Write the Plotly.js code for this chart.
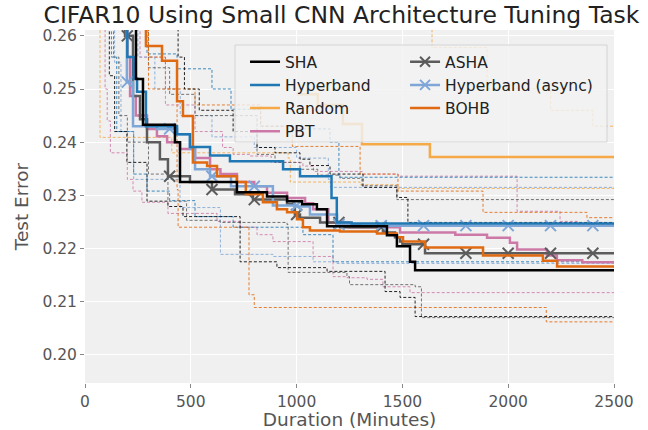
<!DOCTYPE html>
<html>
<head>
<meta charset="utf-8">
<script src="https://cdn.plot.ly/plotly-3.0.1.min.js"></script>
<style>
  html, body { margin: 0; padding: 0; background: #ffffff; }
  #chart { width: 648px; height: 430px; }
</style>
</head>
<body>
<div id="chart"></div>
<script>
// Best test error so far vs. wall-clock duration, [minutes, error] step points.
// Each searcher has a mean curve plus an upper and lower band curve.

const shaMean = [[170,0.275],[241,0.2519],[274,0.2433],[425,0.2400],[449,0.2325],[718,0.2306],[860,0.2298],[955,0.2289],[1026,0.2283],[1096,0.2274],[1144,0.2242],[1427,0.2225],[1474,0.2204],[1536,0.2175],[1560,0.2159],[2500,0.2159]];
const shaUpper = [[175,0.280],[440,0.2560],[470,0.2500],[540,0.2460],[700,0.2420],[813,0.2390],[898,0.2380],[1016,0.2368],[1063,0.2356],[1158,0.2340],[1314,0.2315],[1474,0.2296],[1526,0.2249],[2500,0.2249]];
const shaLower = [[100,0.280],[115,0.2525],[140,0.2420],[198,0.2362],[293,0.2289],[392,0.2279],[463,0.2260],[733,0.2175],[907,0.2164],[1144,0.2157],[1418,0.2119],[1489,0.2108],[1560,0.2072],[2500,0.2072]];

const hbMean = [[175,0.275],[200,0.2560],[230,0.2520],[246,0.2495],[288,0.2430],[435,0.2415],[496,0.2391],[591,0.2375],[685,0.2364],[936,0.2349],[1016,0.2336],[1165,0.2295],[1190,0.2249],[1260,0.2247],[2500,0.2247]];
const hbUpper = [[200,0.280],[293,0.2566],[435,0.2538],[600,0.2500],[690,0.2462],[830,0.2430],[1000,0.2425],[1158,0.2400],[1200,0.2334],[2500,0.2334]];
const hbLower = [[110,0.280],[125,0.2560],[150,0.2420],[230,0.2340],[293,0.2308],[400,0.2290],[520,0.2260],[700,0.2240],[1030,0.2226],[1172,0.2175],[2500,0.2174]];

const randomMean = [[1000,0.2490],[1100,0.2470],[1219,0.2434],[1309,0.2396],[1630,0.2372],[2500,0.2372]];
const randomUpper = [[150,0.280],[1640,0.2578],[1900,0.2500],[2200,0.2460],[2400,0.2430],[2500,0.2430]];
const randomLower = [[50,0.280],[71,0.2409],[400,0.2409],[410,0.2380],[960,0.2370],[970,0.2325],[1300,0.2320],[1479,0.2313],[2500,0.2313]];

const pbtMean = [[175,0.275],[200,0.2560],[213,0.2487],[240,0.2450],[293,0.2425],[340,0.2411],[388,0.2400],[449,0.2387],[520,0.2370],[591,0.2349],[640,0.2340],[718,0.2325],[800,0.2317],[860,0.2305],[955,0.2295],[1040,0.2285],[1078,0.2274],[1150,0.2249],[1250,0.2240],[1489,0.2230],[1750,0.2226],[1900,0.2220],[2008,0.2211],[2042,0.2198],[2183,0.2187],[2230,0.2178],[2350,0.2174],[2500,0.2172]];
const pbtUpper = [[150,0.280],[260,0.2560],[380,0.2470],[520,0.2420],[650,0.2390],[700,0.2377],[780,0.2374],[880,0.2362],[1030,0.2355],[1080,0.2345],[1310,0.2340],[1480,0.2336],[2008,0.2336],[2042,0.2270],[2245,0.2251],[2330,0.2245],[2500,0.2245]];
const pbtLower = [[70,0.280],[95,0.2500],[105,0.2440],[120,0.2380],[200,0.2330],[227,0.2308],[269,0.2287],[392,0.2266],[624,0.2251],[733,0.2240],[813,0.2226],[888,0.2213],[1078,0.2185],[1172,0.2147],[1238,0.2145],[1333,0.2142],[1408,0.2128],[1536,0.2117],[2500,0.2117]];

const ashaMean = [[170,0.275],[189,0.2600],[227,0.2487],[260,0.2443],[293,0.2400],[354,0.2368],[392,0.2336],[496,0.2325],[600,0.2311],[709,0.2302],[794,0.2292],[955,0.2283],[992,0.2264],[1016,0.2258],[1111,0.2249],[1205,0.2240],[1408,0.2230],[1465,0.2221],[1489,0.2213],[1500,0.2208],[1607,0.2191],[2500,0.2191]];
const ashaUpper = [[170,0.280],[300,0.2540],[400,0.2490],[520,0.2450],[813,0.2377],[898,0.2362],[1016,0.2349],[1100,0.2338],[1205,0.2332],[1309,0.2318],[1474,0.2292],[2500,0.2292]];
const ashaLower = [[120,0.280],[135,0.2560],[160,0.2450],[200,0.2400],[300,0.2340],[392,0.2289],[480,0.2253],[638,0.2249],[955,0.2245],[960,0.2155],[1238,0.2147],[1250,0.2132],[1560,0.2128],[1590,0.2070],[2500,0.2070]];

const hbAsyncMean = [[170,0.275],[180,0.2620],[198,0.2513],[227,0.2430],[340,0.2425],[435,0.2415],[496,0.2387],[520,0.2349],[591,0.2336],[690,0.2317],[888,0.2281],[1002,0.2279],[1063,0.2264],[1191,0.2245],[1300,0.2243],[2500,0.2243]];
const hbAsyncUpper = [[150,0.280],[250,0.2560],[330,0.2500],[450,0.2450],[600,0.2410],[800,0.2390],[1000,0.2370],[1150,0.2330],[1160,0.2315],[2500,0.2313]];
const hbAsyncLower = [[120,0.280],[140,0.2550],[170,0.2420],[230,0.2330],[449,0.2277],[638,0.2274],[640,0.2189],[888,0.2185],[1078,0.2175],[1191,0.2172],[2500,0.2172]];

const bohbMean = [[200,0.275],[288,0.2581],[364,0.2553],[435,0.2477],[463,0.2449],[510,0.2362],[577,0.2355],[624,0.2336],[718,0.2325],[760,0.2302],[841,0.2287],[907,0.2274],[955,0.2268],[1002,0.2255],[1030,0.2240],[1063,0.2234],[1205,0.2232],[1380,0.2228],[1474,0.2221],[1503,0.2213],[1607,0.2202],[1881,0.2187],[2164,0.2177],[2231,0.2166],[2500,0.2166]];
const bohbUpper = [[200,0.280],[300,0.2560],[380,0.2500],[520,0.2470],[830,0.2430],[980,0.2392],[1300,0.2340],[1479,0.2308],[1881,0.2268],[2372,0.2258],[2500,0.2258]];
const bohbLower = [[150,0.280],[300,0.2500],[435,0.2311],[440,0.2240],[770,0.2240],[775,0.2113],[800,0.2089],[2174,0.2089],[2180,0.2062],[2500,0.2062]];

// Durations at which the asynchronous searchers get an "x" marker
const markerDurations = [200, 400, 600, 800, 1000, 1200, 1400, 1600, 1800, 2000, 2200, 2400];

const xTicks = [0, 500, 1000, 1500, 2000, 2500];
const yTicks = [0.20, 0.21, 0.22, 0.23, 0.24, 0.25, 0.26];

const colors = {
  sha: '#000000',
  hb: '#1f77b4',
  random: '#f5a947',
  pbt: '#cc79a7',
  asha: '#5c5c5c',
  hbAsync: '#7ea6d6',
  bohb: '#e06a12'
};

const xs = s => s.map(p => p[0]);
const ys = s => s.map(p => p[1]);

// value of a step curve (held until the next point) at duration x
function stepAt(series, x) {
  let v = series[0][1];
  for (const p of series) { if (p[0] <= x) v = p[1]; else break; }
  return v;
}

function band(series, color) {
  return {
    x: xs(series), y: ys(series), type: 'scatter', mode: 'lines',
    line: { shape: 'hv', color: color, width: 1, dash: '3px,2px' },
    opacity: 0.85, showlegend: false, hoverinfo: 'skip'
  };
}
function mean(series, color, name, legendId, legend) {
  return {
    x: xs(series), y: ys(series), type: 'scatter', mode: 'lines',
    name: name, legend: legendId, showlegend: legend,
    line: { shape: 'hv', color: color, width: 2.5 }
  };
}
function markers(series, color) {
  return {
    x: markerDurations, y: markerDurations.map(d => stepAt(series, d)),
    type: 'scatter', mode: 'markers', showlegend: false, hoverinfo: 'skip',
    marker: { symbol: 'x-thin', size: 11, color: color, line: { color: color, width: 2 } }
  };
}
function legendProxy(color, name, rank) {
  return {
    x: [null], y: [null], type: 'scatter', mode: 'lines+markers',
    name: name, legend: 'legend2', legendrank: rank,
    line: { color: color, width: 2.5 },
    marker: { symbol: 'x-thin', size: 10, color: color, line: { color: color, width: 2 } }
  };
}

const bohbTrace = mean(bohbMean, colors.bohb, 'BOHB', 'legend2', true);
bohbTrace.legendrank = 3;

const traces = [
  band(randomUpper, colors.random), band(randomLower, colors.random),
  band(pbtUpper, colors.pbt), band(pbtLower, colors.pbt),
  band(hbAsyncUpper, colors.hbAsync), band(hbAsyncLower, colors.hbAsync),
  band(ashaUpper, colors.asha), band(ashaLower, colors.asha),
  band(hbUpper, colors.hb), band(hbLower, colors.hb),
  band(bohbUpper, colors.bohb), band(bohbLower, colors.bohb),
  band(shaUpper, colors.sha), band(shaLower, colors.sha),

  Object.assign(mean(randomMean, colors.random, 'Random', 'legend', true), { legendrank: 3 }),
  Object.assign(mean(pbtMean, colors.pbt, 'PBT', 'legend', true), { legendrank: 4 }),
  mean(ashaMean, colors.asha, 'ASHA', 'legend2', false),
  markers(ashaMean, colors.asha),
  mean(hbAsyncMean, colors.hbAsync, 'Hyperband (async)', 'legend2', false),
  markers(hbAsyncMean, colors.hbAsync),
  bohbTrace,
  Object.assign(mean(hbMean, colors.hb, 'Hyperband', 'legend', true), { legendrank: 2 }),
  Object.assign(mean(shaMean, colors.sha, 'SHA', 'legend', true), { legendrank: 1 }),

  legendProxy(colors.asha, 'ASHA', 1),
  legendProxy(colors.hbAsync, 'Hyperband (async)', 2)
];

const tickFont = { family: 'DejaVu Sans, sans-serif', size: 15.5, color: '#555555' };
const legendFont = { family: 'DejaVu Sans, sans-serif', size: 15.5, color: '#222222' };

const layout = {
  width: 648, height: 430,
  margin: { l: 85, r: 34, t: 30, b: 47, pad: 0 },
  paper_bgcolor: '#ffffff',
  plot_bgcolor: '#f0f0f0',
  font: { family: 'DejaVu Sans, sans-serif', color: '#333333' },
  title: {
    text: 'CIFAR10 Using Small CNN Architecture Tuning Task',
    font: { family: 'DejaVu Sans, sans-serif', size: 23.5, color: '#222222' },
    xref: 'container', x: 0.527, xanchor: 'center',
    yref: 'container', y: 0.966, yanchor: 'middle'
  },
  xaxis: {
    range: [0, 2500], tickvals: xTicks, ticktext: xTicks.map(String),
    showgrid: true, gridcolor: '#ffffff', gridwidth: 1, zeroline: false,
    ticks: 'outside', ticklen: 4, tickcolor: '#888888', tickwidth: 1,
    tickfont: tickFont, showline: false,
    title: { text: 'Duration (Minutes)', font: { family: 'DejaVu Sans, sans-serif', size: 18.5, color: '#555555' }, standoff: 4 }
  },
  yaxis: {
    range: [0.1947, 0.2611], tickvals: yTicks, ticktext: yTicks.map(v => v.toFixed(2)),
    showgrid: true, gridcolor: '#ffffff', gridwidth: 1, zeroline: false,
    ticks: 'outside', ticklen: 4, tickcolor: '#888888', tickwidth: 1,
    tickfont: tickFont, showline: false,
    title: { text: 'Test Error', font: { family: 'DejaVu Sans, sans-serif', size: 18.5, color: '#555555' }, standoff: 8 }
  },
  // two legend columns sharing one framed box
  legend: {
    x: 0.3025, y: 0.957, xanchor: 'left', yanchor: 'top',
    bgcolor: 'rgba(0,0,0,0)', borderwidth: 0, font: legendFont, traceorder: 'normal'
  },
  legend2: {
    x: 0.605, y: 0.957, xanchor: 'left', yanchor: 'top',
    bgcolor: 'rgba(0,0,0,0)', borderwidth: 0, font: legendFont, traceorder: 'normal'
  },
  shapes: [{
    type: 'rect', xref: 'paper', yref: 'paper', layer: 'above',
    x0: 0.2836, x1: 0.9868, y0: 0.6827, y1: 0.9575,
    fillcolor: 'rgba(242,242,242,0.82)', line: { color: '#d4d4d4', width: 1 }
  }],
  showlegend: true
};

Plotly.newPlot('chart', traces, layout, { displayModeBar: false, staticPlot: true });
</script>
</body>
</html>
